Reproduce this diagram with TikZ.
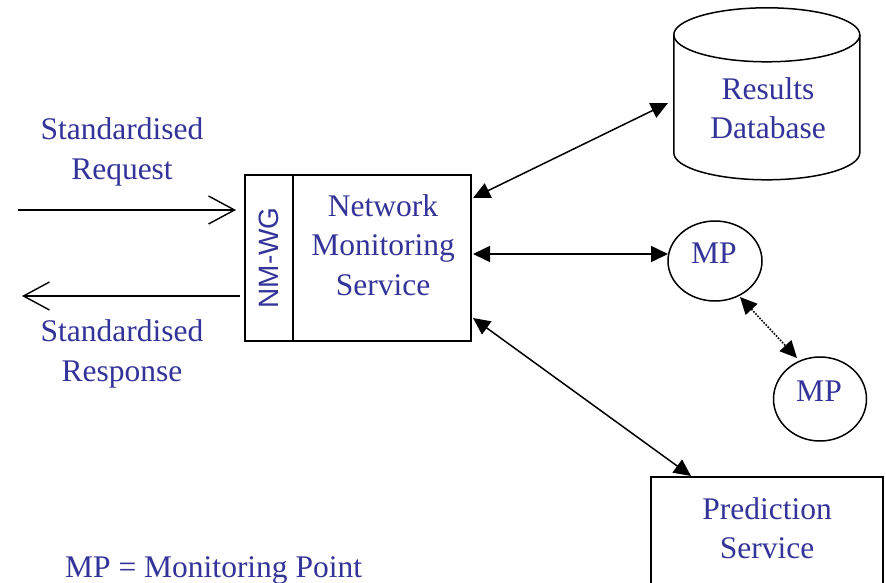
\documentclass[tikz,border=0pt]{standalone}
\usepackage{fontspec}
\setmainfont{Liberation Serif}
\setsansfont{Liberation Sans}
\usetikzlibrary{arrows.meta,calc,shapes.geometric}
\definecolor{txtblue}{RGB}{51,51,153}
\begin{document}
\begin{tikzpicture}[x=1pt,y=-1pt,
  lbl/.style={text=txtblue,font=\fontsize{31.5}{39.5}\selectfont,align=center},
  box/.style={draw,line width=1.5pt,inner sep=0pt},
  oval/.style={draw,line width=1.5pt,ellipse,inner sep=0pt},
  link/.style={line width=1.5pt,{Triangle[length=17pt,width=16pt]}-{Triangle[length=17pt,width=16pt]}},
  flow/.style={line width=1.4pt,-{Straight Barb[length=26pt,width=28pt,line width=1.4pt]}},
  every node/.style={inner sep=0pt}]
\useasboundingbox (0,0) rectangle (886,583);

% central service with its NM-WG interface
\node[box,minimum width=48pt,minimum height=166pt] (nmwg) at (269,258) {};
\node[text=txtblue,font=\sffamily\fontsize{28}{30}\selectfont,rotate=90] at (nmwg.center) {NM-WG};
\node[box,minimum width=178pt,minimum height=166pt] (nms) at (382,258) {};
\node[lbl] at (383,245) {Network\\Monitoring\\Service};

% request / response
\coordinate (reqs) at (18,210);
\coordinate (reqe) at (236,210);
\coordinate (ress) at (240,296);
\coordinate (rese) at (22,296);
\draw[flow] (reqs) -- (reqe);
\draw[flow] (ress) -- (rese);
\node[lbl] (req) at (122,152) {Standardised\\Request};
\node[lbl] (res) at (122,354) {Standardised\\Response};

% results database (cylinder)
\node[minimum width=186pt,minimum height=172pt] (db) at (767,94) {};
\draw[line width=1.5pt,fill=white]
  (db.north west) ++(0,27) -- ++(0,118)
  arc[start angle=180,end angle=360,x radius=93,y radius=-27]
  -- ++(0,-118);
\draw[line width=1.5pt] ($(db.north west)+(93,27)$) ellipse[x radius=93,y radius=27];
\node[lbl] at (768,108) {Results\\Database};

% monitoring points
\node[oval,minimum width=94pt,minimum height=80pt] (mp1) at (715,261) {};
\node[lbl] at (714,253) {MP};
\node[oval,minimum width=93pt,minimum height=84pt] (mp2) at (820,399) {};
\node[lbl] at (819,391) {MP};

% prediction service
\node[box,minimum width=232pt,minimum height=130pt] (ps) at (767,542) {};
\node[lbl] at (767,528) {Prediction\\Service};

% connectors
\coordinate (a1) at (473,198);
\coordinate (a2) at (473,254);
\coordinate (a3) at (473,318);
\coordinate (dbw) at (668,103);
\coordinate (mpw) at (668,254);
\coordinate (psn) at (691,476);
\coordinate (m1) at (740,297);
\coordinate (m2) at (797,358);
\draw[link] (a1) -- (dbw);
\draw[link] (a2) -- (mpw);
\draw[link] (a3) -- (psn);
\draw[link,line width=1.6pt,dash pattern=on 1.6pt off 1.4pt] (m1) -- (m2);

\node[lbl,anchor=west] (key) at (65,570) {MP = Monitoring Point};
\end{tikzpicture}
\end{document}
